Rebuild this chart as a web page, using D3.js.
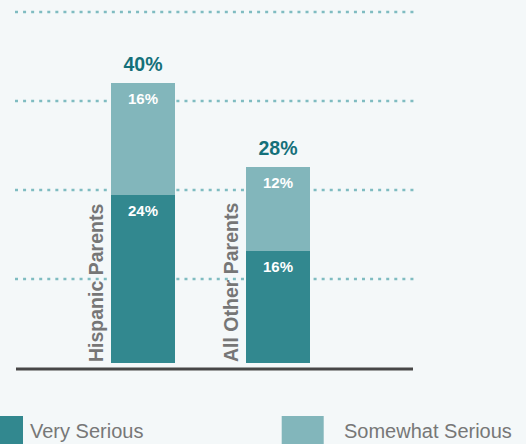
<!DOCTYPE html>
<html>
<head>
<meta charset="utf-8">
<script src="https://cdn.jsdelivr.net/npm/d3@7"></script>
<style>
  html, body { margin: 0; padding: 0; background: #f4f8f9; }
  svg { display: block; }
</style>
</head>
<body>
<svg id="chart" width="526" height="444"></svg>
<script>
// Share of parents rating the issue as serious, split by intensity
const categories = ["Hispanic Parents", "All Other Parents"];
const verySerious = [24, 16];
const somewhatSerious = [16, 12];
const seriesNames = ["Very Serious", "Somewhat Serious"];
const gridSteps = [1, 2, 3, 4];

const colors = { very: "#32888f", somewhat: "#82b6bb", total: "#14707a", label: "#767676" };
const font = "'Liberation Sans', Arial, sans-serif";

const svg = d3.select("#chart");

// Scales: bar centres, bar heights, evenly spaced gridlines
const x = d3.scalePoint().domain(categories).range([143, 278]);
const y = d3.scaleLinear().domain([0, 40]).range([363, 83]);
const grid = d3.scaleLinear().domain([0, 4]).range([368, 12]);

// Dotted gridlines
svg.append("g").selectAll("line").data(gridSteps).join("line")
  .attr("x1", 15).attr("x2", 417)
  .attr("y1", d => grid(d)).attr("y2", d => grid(d))
  .attr("stroke", "#7fbcc1")
  .attr("stroke-width", 2.6)
  .attr("stroke-dasharray", "3 5.07");

const rows = categories.map((c, i) => ({
  cat: c, very: verySerious[i], somewhat: somewhatSerious[i], total: verySerious[i] + somewhatSerious[i]
}));

const bw = 64;
const bx = d => x(d.cat) - bw / 2;

// Stacked bars
const bars = svg.append("g");
bars.selectAll("rect.very").data(rows).join("rect")
  .attr("class", "very")
  .attr("x", bx).attr("width", bw)
  .attr("y", d => y(d.very)).attr("height", d => y(0) - y(d.very))
  .attr("fill", colors.very);
bars.selectAll("rect.somewhat").data(rows).join("rect")
  .attr("class", "somewhat")
  .attr("x", bx).attr("width", bw)
  .attr("y", d => y(d.total)).attr("height", d => y(d.very) - y(d.total))
  .attr("fill", colors.somewhat);

// Segment value labels
const segLabel = (sel, cls, topVal, val) => sel.selectAll("text." + cls).data(rows).join("text")
  .attr("class", cls)
  .attr("x", d => x(d.cat))
  .attr("y", d => y(topVal(d)) + 21)
  .attr("text-anchor", "middle")
  .attr("fill", "#ffffff")
  .attr("font-family", font)
  .attr("font-weight", "bold")
  .attr("font-size", 15)
  .text(d => val(d) + "%");
segLabel(bars, "lv", d => d.very, d => d.very);
segLabel(bars, "ls", d => d.total, d => d.somewhat);

// Totals above the bars
bars.selectAll("text.total").data(rows).join("text")
  .attr("class", "total")
  .attr("x", d => x(d.cat))
  .attr("y", d => y(d.total) - 12)
  .attr("text-anchor", "middle")
  .attr("fill", colors.total)
  .attr("font-family", font)
  .attr("font-weight", "bold")
  .attr("font-size", 19.5)
  .text(d => d.total + "%");

// Rotated category labels beside each bar
bars.selectAll("text.cat").data(rows).join("text")
  .attr("class", "cat")
  .attr("transform", d => `translate(${bx(d) - 8.5},${y(0) - 1}) rotate(-90)`)
  .attr("text-anchor", "start")
  .attr("fill", colors.label)
  .attr("font-family", font)
  .attr("font-weight", "bold")
  .attr("font-size", 19.5)
  .text(d => d.cat);

// Baseline
svg.append("line")
  .attr("x1", 16).attr("x2", 413)
  .attr("y1", 369).attr("y2", 369)
  .attr("stroke", "#474747")
  .attr("stroke-width", 3);

// Legend
const legendSquareX = [-19, 281.7];
const legendTextX = [30, 344];
const legend = svg.append("g");
legend.selectAll("rect").data(seriesNames).join("rect")
  .attr("x", (d, i) => legendSquareX[i]).attr("y", 416)
  .attr("width", 42).attr("height", 40)
  .attr("fill", (d, i) => i === 0 ? colors.very : colors.somewhat);
legend.selectAll("text").data(seriesNames).join("text")
  .attr("x", (d, i) => legendTextX[i]).attr("y", 438)
  .attr("fill", "#777777")
  .attr("font-family", font)
  .attr("font-size", 20)
  .text(d => d);
</script>
</body>
</html>
